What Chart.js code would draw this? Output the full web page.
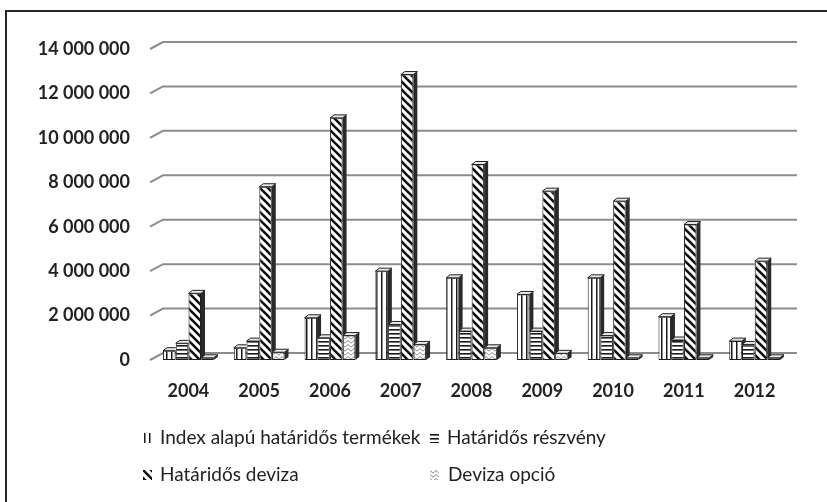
<!DOCTYPE html>
<html>
<head>
<meta charset="utf-8">
<script src="https://cdn.jsdelivr.net/npm/chart.js@4/dist/chart.umd.min.js"></script>
<style>
  html, body { margin: 0; padding: 0; background: #fff; }
  canvas { display: block; }
</style>
</head>
<body>
<canvas id="c" width="827" height="502"></canvas>
<script>
// Years on the category axis
const years = ['2004', '2005', '2006', '2007', '2008', '2009', '2010', '2011', '2012'];

// Series names
const seriesNames = [
  'Index alapú határidős termékek',
  'Határidős részvény',
  'Határidős deviza',
  'Deviza opció'
];

// Yearly volumes per product
const indexFutures    = [420000, 550000, 1900000, 4000000, 3700000, 2950000, 3700000, 1950000, 850000];
const stockFutures    = [750000, 850000, 1000000, 1600000, 1300000, 1300000, 1100000, 900000, 700000];
const currencyFutures = [3000000, 7800000, 10900000, 12850000, 8800000, 7600000, 7150000, 6100000, 4450000];
const currencyOptions = [100000, 350000, 1100000, 700000, 550000, 300000, 100000, 100000, 100000];

// Value axis ticks
const yTicks = [0, 2000000, 4000000, 6000000, 8000000, 10000000, 12000000, 14000000];

const fmt = v => String(v).replace(/\B(?=(\d{3})+(?!\d))/g, ' ');

// Fill patterns for the four series
function makePattern(w, h, paint) {
  const c = document.createElement('canvas');
  c.width = w; c.height = h;
  const g = c.getContext('2d');
  g.fillStyle = '#fff';
  g.fillRect(0, 0, w, h);
  paint(g, w, h);
  return g.createPattern(c, 'repeat');
}
const patVertical = makePattern(5, 4, (g) => { g.fillStyle = '#1a1a1a'; g.fillRect(1, 0, 1.5, 4); });
const patHorizontal = makePattern(4, 4, (g) => { g.fillStyle = '#1a1a1a'; g.fillRect(0, 1, 4, 1.6); });
const patDiagonal = makePattern(8, 8, (g) => {
  g.strokeStyle = '#111'; g.lineWidth = 2.6; g.lineCap = 'square';
  for (let k = -1; k <= 1; k++) {
    g.beginPath(); g.moveTo(k * 8, 0); g.lineTo(k * 8 + 8, 8); g.stroke();
  }
});
const patChevron = makePattern(6, 4, (g) => {
  g.strokeStyle = '#8a8a8a'; g.lineWidth = 1;
  g.beginPath(); g.moveTo(0, 0.5); g.lineTo(3, 3.2); g.lineTo(6, 0.5); g.stroke();
});
const patterns = [patVertical, patHorizontal, patDiagonal, patChevron];

const DX = 4, DY = -3;   // depth offset of the 3D bars
const WDX = 13, WDY = -7; // depth offset of the back wall

// Back-wall gridlines with the slanted floor-edge segment
const wallGrid = {
  id: 'wallGrid',
  beforeDatasetsDraw(chart) {
    const { ctx, chartArea, scales: { y } } = chart;
    ctx.save();
    ctx.strokeStyle = '#8c8c8c';
    ctx.lineWidth = 2;
    yTicks.forEach(v => {
      const py = y.getPixelForValue(v);
      const x0 = chartArea.left - 3;
      ctx.beginPath();
      ctx.moveTo(x0, py);
      ctx.lineTo(x0 + WDX, py + WDY);
      ctx.lineTo(797, py + WDY);
      ctx.stroke();
    });
    ctx.restore();
  }
};

// Side and top faces of each bar
const bar3d = {
  id: 'bar3d',
  afterDatasetsDraw(chart) {
    const { ctx } = chart;
    const metas = chart.data.datasets.map((d, i) => chart.getDatasetMeta(i));
    ctx.save();
    years.forEach((yr, j) => {
      metas.forEach((meta, i) => {
        const el = meta.data[j];
        const p = el.getProps(['x', 'y', 'base', 'width'], true);
        const l = p.x - p.width / 2, r = p.x + p.width / 2;
        ctx.save();
        const next = metas[i + 1] && metas[i + 1].data[j];
        if (next) {
          const q = next.getProps(['x', 'y', 'base', 'width'], true);
          ctx.beginPath();
          ctx.rect(0, 0, chart.width, chart.height);
          ctx.rect(q.x - q.width / 2, q.y, q.width, q.base - q.y);
          ctx.clip('evenodd');
        }
        // right side face
        ctx.beginPath();
        ctx.moveTo(r, p.y);
        ctx.lineTo(r + DX, p.y + DY);
        ctx.lineTo(r + DX, p.base + DY);
        ctx.lineTo(r, p.base);
        ctx.closePath();
        ctx.fillStyle = '#2a2a2a';
        ctx.fill();
        // top face
        ctx.beginPath();
        ctx.moveTo(l, p.y);
        ctx.lineTo(l + DX, p.y + DY);
        ctx.lineTo(r + DX, p.y + DY);
        ctx.lineTo(r, p.y);
        ctx.closePath();
        ctx.fillStyle = '#e8e8e8';
        ctx.fill();
        ctx.strokeStyle = '#222';
        ctx.lineWidth = 1;
        ctx.stroke();
        ctx.restore();
      });
    });
    ctx.restore();
  }
};

// Frame and two-column legend
const frameLegend = {
  id: 'frameLegend',
  beforeDraw(chart) {
    const { ctx } = chart;
    ctx.save();
    ctx.fillStyle = '#fff';
    ctx.fillRect(0, 0, chart.width, chart.height);
    ctx.restore();
  },
  afterDraw(chart) {
    const { ctx } = chart;
    ctx.save();
    ctx.strokeStyle = '#262626';
    ctx.lineWidth = 2;
    ctx.beginPath();
    ctx.moveTo(6, chart.height + 2);
    ctx.lineTo(6, 11);
    ctx.lineTo(chart.width + 2, 11);
    ctx.stroke();

    const spots = [
      { sx: 143, tx: 160, y: 438 },
      { sx: 430, tx: 447, y: 438 },
      { sx: 143, tx: 160, y: 475 },
      { sx: 430, tx: 448, y: 475 }
    ];
    ctx.font = '19px Lato';
    ctx.fillStyle = '#222';
    ctx.textBaseline = 'middle';
    ctx.textAlign = 'left';
    seriesNames.forEach((name, i) => {
      const s = spots[i];
      ctx.save();
      ctx.fillStyle = patterns[i];
      ctx.translate(s.sx, s.y - 5);
      ctx.fillRect(0, 0, 9, 10);
      ctx.restore();
      ctx.fillText(name, s.tx, s.y);
    });
    ctx.restore();
  }
};

new Chart(document.getElementById('c'), {
  type: 'bar',
  data: {
    labels: years,
    datasets: [indexFutures, stockFutures, currencyFutures, currencyOptions].map((vals, i) => ({
      label: seriesNames[i],
      data: vals,
      backgroundColor: patterns[i],
      borderColor: '#1e1e1e',
      borderWidth: 1,
      borderSkipped: false,
      categoryPercentage: 0.72,
      barPercentage: 0.98
    }))
  },
  options: {
    responsive: false,
    animation: false,
    events: [],
    layout: { padding: { top: 49, right: 37, bottom: 0, left: 0 } },
    plugins: {
      legend: { display: false },
      tooltip: { enabled: false },
      title: { display: false }
    },
    scales: {
      x: {
        grid: { display: false },
        border: { display: false },
        ticks: { font: { family: 'Lato', size: 18, weight: 'bold' }, color: '#222', padding: 12, maxRotation: 0 },
        afterFit(s) { s.height = 142; }
      },
      y: {
        min: 0,
        max: 14000000,
        afterBuildTicks(s) { s.ticks = yTicks.map(v => ({ value: v })); },
        grid: { display: false },
        border: { display: false },
        ticks: {
          font: { family: 'Lato', size: 18, weight: 'bold' },
          color: '#222',
          padding: 15,
          callback: v => fmt(v)
        },
        afterFit(s) { s.width = 153; }
      }
    }
  },
  plugins: [frameLegend, wallGrid, bar3d]
});
</script>
</body>
</html>
